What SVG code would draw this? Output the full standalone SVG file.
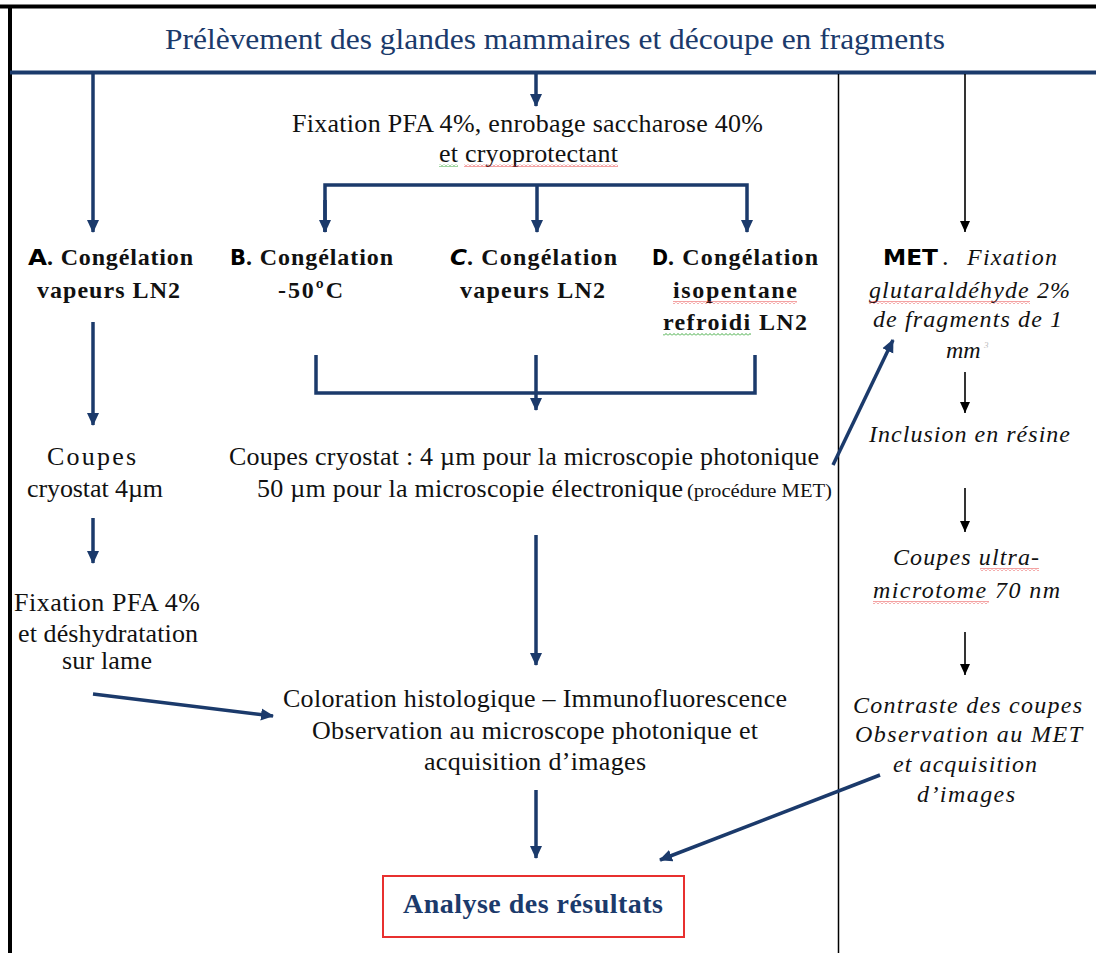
<svg xmlns="http://www.w3.org/2000/svg" width="1096" height="953" viewBox="0 0 1096 953">
<style>
.t{font-family:"Liberation Serif","Times New Roman",serif;font-size:26px;fill:#111}
.b{font-family:"Liberation Serif","Times New Roman",serif;font-size:24px;font-weight:bold;fill:#111}
.s{font-family:"DejaVu Sans","Liberation Sans",sans-serif;font-size:21px;font-weight:bold;fill:#000}
.i{font-family:"Liberation Serif","Times New Roman",serif;font-size:24px;font-style:italic;fill:#111}
.blue{stroke:#1b3a6b;stroke-width:3.5;fill:none}
.blk{stroke:#000;stroke-width:1.6;fill:none}
</style>
<defs>
<marker id="ab" markerUnits="userSpaceOnUse" markerWidth="14" markerHeight="14" refX="12" refY="7" orient="auto"><path d="M0,1 L13,7 L0,13 z" fill="#1b3a6b"/></marker>
<marker id="ak" markerUnits="userSpaceOnUse" markerWidth="12" markerHeight="12" refX="11" refY="5" orient="auto"><path d="M0,0 L11,5 L0,10 z" fill="#000"/></marker>
<pattern id="sqR" width="4" height="3" patternUnits="userSpaceOnUse"><path d="M0,2.5 L2,0.5 L4,2.5" stroke="#e53030" stroke-width="0.9" fill="none"/></pattern>
<pattern id="sqG" width="4" height="3" patternUnits="userSpaceOnUse"><path d="M0,2.5 L2,0.5 L4,2.5" stroke="#2aa02a" stroke-width="0.9" fill="none"/></pattern>
</defs>
<rect width="1096" height="953" fill="#fff"/>
<g id="frame">
<line x1="0" y1="6.5" x2="1096" y2="6.5" stroke="#000" stroke-width="4"/>
<line x1="10" y1="5" x2="10" y2="953" stroke="#000" stroke-width="4"/>
<line x1="10" y1="72.5" x2="1096" y2="72.5" stroke="#1b3a6b" stroke-width="4"/>
<line x1="838.5" y1="74" x2="838.5" y2="953" stroke="#000" stroke-width="1.5"/>
</g>
<g id="title">
<text x="165" y="49" textLength="780" lengthAdjust="spacingAndGlyphs" style="font-family:'Liberation Serif','Times New Roman',serif;font-size:30px;fill:#1b3a6b">Prélèvement des glandes mammaires et découpe en fragments</text>
</g>
<g id="connectors">
<line class="blue" x1="93" y1="74" x2="93" y2="232" marker-end="url(#ab)"/>
<line class="blue" x1="536" y1="74" x2="536" y2="106" marker-end="url(#ab)"/>
<line class="blk" x1="965" y1="74" x2="965" y2="232" marker-end="url(#ak)"/>
<polyline class="blue" points="325,232 325,185 747,185 747,232" marker-end="url(#ab)"/>
<line class="blue" x1="325" y1="200" x2="325" y2="232" marker-end="url(#ab)"/>
<line class="blue" x1="537" y1="185" x2="537" y2="232" marker-end="url(#ab)"/>
<line class="blue" x1="93" y1="322" x2="93" y2="425" marker-end="url(#ab)"/>
<polyline class="blue" points="316,355 316,393 755,393 755,355"/>
<line class="blue" x1="536" y1="355" x2="536" y2="410" marker-end="url(#ab)"/>
<line class="blue" x1="93" y1="518" x2="93" y2="563" marker-end="url(#ab)"/>
<line class="blue" x1="833" y1="465" x2="893" y2="340" marker-end="url(#ab)"/>
<line class="blue" x1="93" y1="694" x2="273" y2="716" marker-end="url(#ab)"/>
<line class="blue" x1="536" y1="535" x2="536" y2="665" marker-end="url(#ab)"/>
<line class="blue" x1="536" y1="790" x2="536" y2="858" marker-end="url(#ab)"/>
<line class="blue" x1="880" y1="775" x2="660" y2="860" marker-end="url(#ab)"/>
<line class="blk" x1="965" y1="372" x2="965" y2="413" marker-end="url(#ak)"/>
<line class="blk" x1="965" y1="488" x2="965" y2="532" marker-end="url(#ak)"/>
<line class="blk" x1="965" y1="632" x2="965" y2="675" marker-end="url(#ak)"/>
</g>
<g id="fixation">
<text class="t" x="292" y="132" textLength="471" lengthAdjust="spacing">Fixation PFA 4%, enrobage saccharose 40%</text>
<text class="t" x="439" y="162" textLength="179" lengthAdjust="spacing">et cryoprotectant</text>
<rect x="439" y="164" width="19" height="3" fill="url(#sqG)"/>
<rect x="464" y="164" width="154" height="3" fill="url(#sqR)"/>
</g>
<g id="nodeA">
<text class="s" x="28" y="265" textLength="19" lengthAdjust="spacingAndGlyphs">A</text>
<text class="b" x="47" y="265" textLength="146" lengthAdjust="spacing">. Congélation</text>
<text class="b" x="37" y="298" textLength="143" lengthAdjust="spacing">vapeurs LN2</text>
</g>
<g id="nodeB">
<text class="s" x="230" y="265" textLength="16" lengthAdjust="spacingAndGlyphs">B</text>
<text class="b" x="246" y="265" textLength="147" lengthAdjust="spacing">. Congélation</text>
<text class="b" x="278" y="298" textLength="65" lengthAdjust="spacing">-50ºC</text>
</g>
<g id="nodeC">
<text class="s" x="450" y="265" textLength="17" lengthAdjust="spacingAndGlyphs" font-style="italic">C</text>
<text class="b" x="467" y="265" textLength="150" lengthAdjust="spacing">. Congélation</text>
<text class="b" x="460" y="298" textLength="145" lengthAdjust="spacing">vapeurs LN2</text>
</g>
<g id="nodeD">
<text class="s" x="652" y="265" textLength="16" lengthAdjust="spacingAndGlyphs">D</text>
<text class="b" x="668" y="265" textLength="150" lengthAdjust="spacing">. Congélation</text>
<text class="b" x="673" y="298" textLength="124" lengthAdjust="spacing">isopentane</text>
<text class="b" x="663" y="330" textLength="144" lengthAdjust="spacing">refroidi LN2</text>
<rect x="673" y="301" width="124" height="3" fill="url(#sqR)"/>
<rect x="663" y="333" width="88" height="3" fill="url(#sqG)"/>
</g>
<g id="nodeMET">
<text class="s" x="883" y="265" textLength="55" lengthAdjust="spacingAndGlyphs">MET</text>
<text class="t" x="942" y="265">.</text>
<text class="i" x="967" y="265" textLength="90" lengthAdjust="spacing">Fixation</text>
<text class="i" x="869" y="298" textLength="201" lengthAdjust="spacing">glutaraldéhyde 2%</text>
<rect x="869" y="301" width="161" height="3" fill="url(#sqR)"/>
<text class="i" x="873" y="327" textLength="189" lengthAdjust="spacing">de fragments de 1</text>
<text class="i" x="946" y="358">mm</text>
<text x="984" y="348" style="font-family:'Liberation Serif',serif;font-size:9px;font-style:italic;fill:#bbb">3</text>
</g>
<g id="coupesA">
<text class="t" x="47" y="465" textLength="89" lengthAdjust="spacing">Coupes</text>
<text class="t" x="27" y="497" textLength="136" lengthAdjust="spacing">cryostat 4µm</text>
</g>
<g id="coupesBCD">
<text class="t" x="229" y="465" textLength="590" lengthAdjust="spacing">Coupes cryostat : 4 µm pour la microscopie photonique</text>
<text class="t" x="257" y="497" textLength="426" lengthAdjust="spacing">50 µm pour la microscopie électronique</text>
<text x="687" y="497" textLength="145" lengthAdjust="spacingAndGlyphs" style="font-family:'Liberation Serif','Times New Roman',serif;font-size:18px;fill:#111">(procédure MET)</text>
</g>
<g id="fixationA">
<text class="t" x="14" y="611" textLength="186" lengthAdjust="spacing">Fixation PFA 4%</text>
<text class="t" x="18" y="642" textLength="180" lengthAdjust="spacing">et déshydratation</text>
<text class="t" x="62" y="669" textLength="90" lengthAdjust="spacing">sur lame</text>
</g>
<g id="coloration">
<text class="t" x="283" y="707" textLength="504" lengthAdjust="spacing">Coloration histologique – Immunofluorescence</text>
<text class="t" x="312" y="739" textLength="446" lengthAdjust="spacing">Observation au microscope photonique et</text>
<text class="t" x="424" y="770" textLength="222" lengthAdjust="spacing">acquisition d’images</text>
</g>
<g id="inclusion">
<text class="i" x="869" y="442" textLength="201" lengthAdjust="spacing">Inclusion en résine</text>
</g>
<g id="ultramicrotome">
<text class="i" x="893" y="565" textLength="146" lengthAdjust="spacing">Coupes ultra-</text>
<rect x="980" y="568" width="59" height="3" fill="url(#sqR)"/>
<text class="i" x="873" y="598" textLength="187" lengthAdjust="spacing">microtome 70 nm</text>
<rect x="873" y="601" width="116" height="3" fill="url(#sqR)"/>
</g>
<g id="contraste">
<text class="i" x="853" y="713" textLength="229" lengthAdjust="spacing">Contraste des coupes</text>
<text class="i" x="855" y="742" textLength="227" lengthAdjust="spacing">Observation au MET</text>
<text class="i" x="893" y="772" textLength="144" lengthAdjust="spacing">et acquisition</text>
<text class="i" x="917" y="802" textLength="98" lengthAdjust="spacing">d’images</text>
</g>
<g id="analyse">
<rect x="383" y="876" width="301" height="61" fill="#fff" stroke="#e8302f" stroke-width="2"/>
<text x="403" y="913" textLength="260" lengthAdjust="spacing" style="font-family:'Liberation Serif','Times New Roman',serif;font-size:28px;font-weight:bold;fill:#1b3a6b">Analyse des résultats</text>
</g>
</svg>
